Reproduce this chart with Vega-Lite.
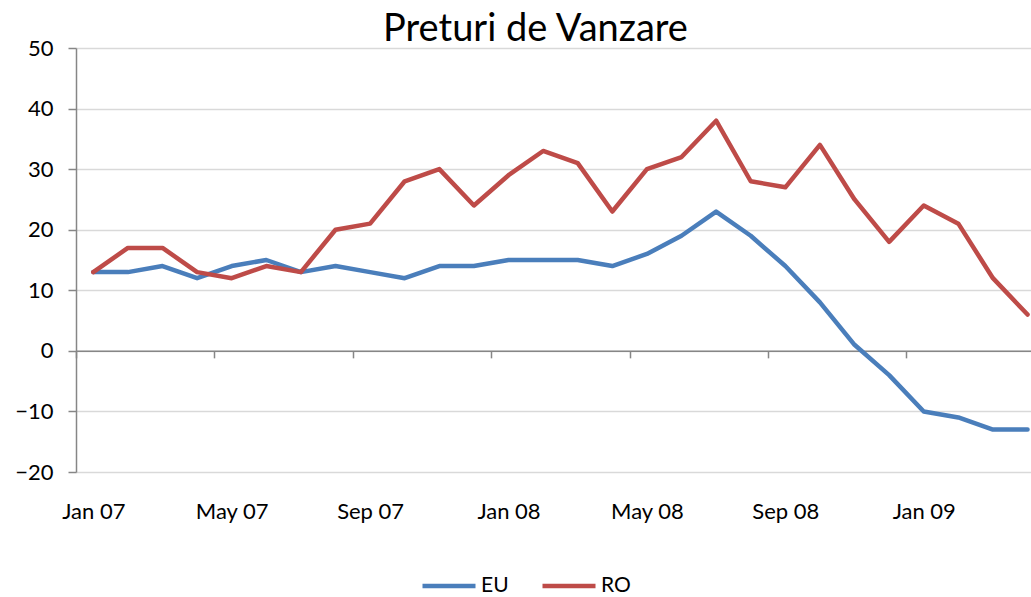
{
  "$schema": "https://vega.github.io/schema/vega-lite/v6.json",
  "autosize": {"type": "none"},
  "padding": {"left": 76, "top": 48, "right": 0, "bottom": 125},
  "width": 955,
  "height": 424,
  "background": "white",
  "config": {
    "view": {"stroke": null},
    "font": "Lato"
  },
  "title": {
    "text": "Preturi de Vanzare",
    "fontSize": 38,
    "fontWeight": "normal",
    "font": "Lato",
    "color": "black",
    "anchor": "middle",
    "frame": "group",
    "dx": -18,
    "dy": 16,
    "offset": 4
  },
  "data": {
    "values": [
      {"i": 0, "month": "Jan 07", "series": "EU", "value": 13},
      {"i": 1, "month": "Feb 07", "series": "EU", "value": 13},
      {"i": 2, "month": "Mar 07", "series": "EU", "value": 14},
      {"i": 3, "month": "Apr 07", "series": "EU", "value": 12},
      {"i": 4, "month": "May 07", "series": "EU", "value": 14},
      {"i": 5, "month": "Jun 07", "series": "EU", "value": 15},
      {"i": 6, "month": "Jul 07", "series": "EU", "value": 13},
      {"i": 7, "month": "Aug 07", "series": "EU", "value": 14},
      {"i": 8, "month": "Sep 07", "series": "EU", "value": 13},
      {"i": 9, "month": "Oct 07", "series": "EU", "value": 12},
      {"i": 10, "month": "Nov 07", "series": "EU", "value": 14},
      {"i": 11, "month": "Dec 07", "series": "EU", "value": 14},
      {"i": 12, "month": "Jan 08", "series": "EU", "value": 15},
      {"i": 13, "month": "Feb 08", "series": "EU", "value": 15},
      {"i": 14, "month": "Mar 08", "series": "EU", "value": 15},
      {"i": 15, "month": "Apr 08", "series": "EU", "value": 14},
      {"i": 16, "month": "May 08", "series": "EU", "value": 16},
      {"i": 17, "month": "Jun 08", "series": "EU", "value": 19},
      {"i": 18, "month": "Jul 08", "series": "EU", "value": 23},
      {"i": 19, "month": "Aug 08", "series": "EU", "value": 19},
      {"i": 20, "month": "Sep 08", "series": "EU", "value": 14},
      {"i": 21, "month": "Oct 08", "series": "EU", "value": 8},
      {"i": 22, "month": "Nov 08", "series": "EU", "value": 1},
      {"i": 23, "month": "Dec 08", "series": "EU", "value": -4},
      {"i": 24, "month": "Jan 09", "series": "EU", "value": -10},
      {"i": 25, "month": "Feb 09", "series": "EU", "value": -11},
      {"i": 26, "month": "Mar 09", "series": "EU", "value": -13},
      {"i": 27, "month": "Apr 09", "series": "EU", "value": -13},
      {"i": 0, "month": "Jan 07", "series": "RO", "value": 13},
      {"i": 1, "month": "Feb 07", "series": "RO", "value": 17},
      {"i": 2, "month": "Mar 07", "series": "RO", "value": 17},
      {"i": 3, "month": "Apr 07", "series": "RO", "value": 13},
      {"i": 4, "month": "May 07", "series": "RO", "value": 12},
      {"i": 5, "month": "Jun 07", "series": "RO", "value": 14},
      {"i": 6, "month": "Jul 07", "series": "RO", "value": 13},
      {"i": 7, "month": "Aug 07", "series": "RO", "value": 20},
      {"i": 8, "month": "Sep 07", "series": "RO", "value": 21},
      {"i": 9, "month": "Oct 07", "series": "RO", "value": 28},
      {"i": 10, "month": "Nov 07", "series": "RO", "value": 30},
      {"i": 11, "month": "Dec 07", "series": "RO", "value": 24},
      {"i": 12, "month": "Jan 08", "series": "RO", "value": 29},
      {"i": 13, "month": "Feb 08", "series": "RO", "value": 33},
      {"i": 14, "month": "Mar 08", "series": "RO", "value": 31},
      {"i": 15, "month": "Apr 08", "series": "RO", "value": 23},
      {"i": 16, "month": "May 08", "series": "RO", "value": 30},
      {"i": 17, "month": "Jun 08", "series": "RO", "value": 32},
      {"i": 18, "month": "Jul 08", "series": "RO", "value": 38},
      {"i": 19, "month": "Aug 08", "series": "RO", "value": 28},
      {"i": 20, "month": "Sep 08", "series": "RO", "value": 27},
      {"i": 21, "month": "Oct 08", "series": "RO", "value": 34},
      {"i": 22, "month": "Nov 08", "series": "RO", "value": 25},
      {"i": 23, "month": "Dec 08", "series": "RO", "value": 18},
      {"i": 24, "month": "Jan 09", "series": "RO", "value": 24},
      {"i": 25, "month": "Feb 09", "series": "RO", "value": 21},
      {"i": 26, "month": "Mar 09", "series": "RO", "value": 12},
      {"i": 27, "month": "Apr 09", "series": "RO", "value": 6}
    ]
  },
  "mark": {"type": "line", "strokeWidth": 4.5, "strokeCap": "round", "strokeJoin": "round"},
  "encoding": {
    "x": {
      "field": "i",
      "type": "quantitative",
      "scale": {"domain": [-0.5, 27.1], "nice": false, "zero": false},
      "axis": {
        "title": null,
        "orient": "bottom",
        "offset": -121.14,
        "values": [-0.5, 3.5, 7.5, 11.5, 15.5, 19.5, 23.5],
        "labelExpr": "['Jan 07','May 07','Sep 07','Jan 08','May 08','Sep 08','Jan 09'][round((datum.value + 0.5) / 4)]",
        "labelOffset": 17.3,
        "labelPadding": 144,
        "labelFontSize": 22,
        "labelColor": "black",
        "labelFont": "Lato",
        "labelAlign": "center",
        "labelFlush": false,
        "labelOverlap": false,
        "grid": false,
        "domain": true,
        "domainColor": "#868686",
        "domainWidth": 1.5,
        "ticks": true,
        "tickColor": "#868686",
        "tickSize": 7,
        "tickWidth": 1.5
      }
    },
    "y": {
      "field": "value",
      "type": "quantitative",
      "scale": {"domain": [-20, 50], "nice": false, "zero": false},
      "axis": {
        "title": null,
        "values": [-20, -10, 0, 10, 20, 30, 40, 50],
        "labelFontSize": 22,
        "labelColor": "black",
        "labelFont": "Lato",
        "labelPadding": 15,
        "labelFlush": false,
        "grid": true,
        "gridColor": "#d9d9d9",
        "gridWidth": 1.5,
        "domainColor": "#868686",
        "domainWidth": 1.5,
        "tickColor": "#868686",
        "tickSize": 8,
        "tickWidth": 1.5
      }
    },
    "color": {
      "field": "series",
      "type": "nominal",
      "scale": {"domain": ["EU", "RO"], "range": ["#4A7EBB", "#BE4B48"]},
      "legend": {
        "title": null,
        "orient": "none",
        "direction": "horizontal",
        "legendX": 344,
        "legendY": 509,
        "padding": 0,
        "symbolType": "stroke",
        "symbolSize": 2809,
        "symbolStrokeWidth": 4.5,
        "labelFontSize": 21,
        "labelFont": "Lato",
        "labelColor": "black",
        "labelOffset": 3,
        "columnPadding": 24
      }
    }
  }
}
